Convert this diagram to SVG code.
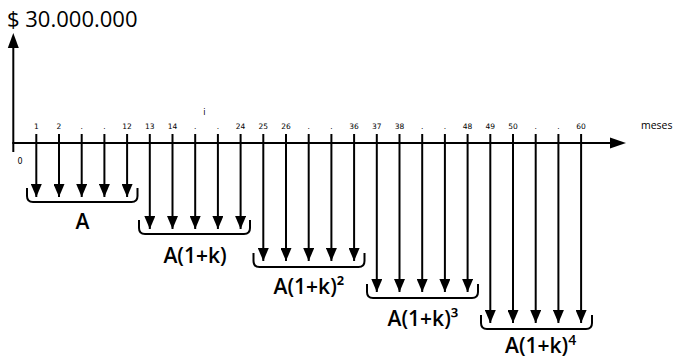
<svg xmlns="http://www.w3.org/2000/svg" width="679" height="358" viewBox="0 0 679 358">
  <style>
    .axis { stroke: #000; stroke-width: 2; fill: none; }
    .flow { stroke: #000; stroke-width: 2; fill: none; }
    .brace { stroke: #000; stroke-width: 2; fill: none; stroke-linejoin: round; }
    .tick { font-family: "DejaVu Sans", Verdana, sans-serif; font-size: 7.5px; fill: #000; text-anchor: middle; }
    .big { font-family: "Open Sans", "Liberation Sans", sans-serif; font-size: 22px; fill: #000; }
    .lbl { font-family: "Open Sans", "Liberation Sans", sans-serif; font-size: 21px; font-weight: 600; fill: #000; }
    .unit { font-family: "Open Sans", "Liberation Sans", sans-serif; font-size: 10.5px; fill: #000; }
  </style>
  <defs>
    <marker id="head" markerUnits="userSpaceOnUse" markerWidth="13" markerHeight="11" refX="13" refY="5.5" orient="auto" viewBox="0 0 13 11">
      <path d="M0,0 L13,5.5 L0,11 Z" fill="#000"/>
    </marker>
  </defs>

  <!-- axes -->
  <g id="axes">
    <line class="axis" x1="13.3" y1="152" x2="13.3" y2="46"/>
    <polygon points="13.3,33 7.8,48 18.8,48" fill="#000"/>
    <line class="axis" x1="12.3" y1="143" x2="612" y2="143"/>
    <polygon points="626,143 610,137.5 610,148.5" fill="#000"/>
  </g>

  <g id="value-label">
    <text class="big" x="7" y="27">$ 30.000.000</text>
  </g>

  <g id="axis-labels">
    <text class="unit" x="641" y="128.5">meses</text>
    <text class="tick" x="20" y="163.5" style="font-size:8px">0</text>
    <text class="tick" x="204.3" y="115" style="font-size:8px">i</text>
  </g>

  <!-- period numbers above the time axis -->
  <g id="period-numbers">
    <text class="tick" x="36.3" y="129">1</text>
    <text class="tick" x="59" y="129">2</text>
    <text class="tick" x="81.7" y="129">.</text>
    <text class="tick" x="104.4" y="129">.</text>
    <text class="tick" x="127.1" y="129">12</text>
    <text class="tick" x="149.8" y="129">13</text>
    <text class="tick" x="172.5" y="129">14</text>
    <text class="tick" x="195.2" y="129">.</text>
    <text class="tick" x="217.9" y="129">.</text>
    <text class="tick" x="240.6" y="129">24</text>
    <text class="tick" x="263.3" y="129">25</text>
    <text class="tick" x="286" y="129">26</text>
    <text class="tick" x="308.7" y="129">.</text>
    <text class="tick" x="331.4" y="129">.</text>
    <text class="tick" x="354.1" y="129">36</text>
    <text class="tick" x="376.8" y="129">37</text>
    <text class="tick" x="399.5" y="129">38</text>
    <text class="tick" x="422.2" y="129">.</text>
    <text class="tick" x="444.9" y="129">.</text>
    <text class="tick" x="467.6" y="129">48</text>
    <text class="tick" x="490.3" y="129">49</text>
    <text class="tick" x="513" y="129">50</text>
    <text class="tick" x="535.7" y="129">.</text>
    <text class="tick" x="558.4" y="129">.</text>
    <text class="tick" x="581.1" y="129">60</text>
  </g>

  <!-- payment arrows, one group per year -->
  <g id="connectors">
    <g id="year-1">
      <line class="flow" x1="36.3" y1="134" x2="36.3" y2="197" marker-end="url(#head)"/>
      <line class="flow" x1="59" y1="134" x2="59" y2="197" marker-end="url(#head)"/>
      <line class="flow" x1="81.7" y1="134" x2="81.7" y2="197" marker-end="url(#head)"/>
      <line class="flow" x1="104.4" y1="134" x2="104.4" y2="197" marker-end="url(#head)"/>
      <line class="flow" x1="127.1" y1="134" x2="127.1" y2="197" marker-end="url(#head)"/>
    </g>
    <g id="year-2">
      <line class="flow" x1="149.8" y1="134" x2="149.8" y2="229" marker-end="url(#head)"/>
      <line class="flow" x1="172.5" y1="134" x2="172.5" y2="229" marker-end="url(#head)"/>
      <line class="flow" x1="195.2" y1="134" x2="195.2" y2="229" marker-end="url(#head)"/>
      <line class="flow" x1="217.9" y1="134" x2="217.9" y2="229" marker-end="url(#head)"/>
      <line class="flow" x1="240.6" y1="134" x2="240.6" y2="229" marker-end="url(#head)"/>
    </g>
    <g id="year-3">
      <line class="flow" x1="263.3" y1="134" x2="263.3" y2="261" marker-end="url(#head)"/>
      <line class="flow" x1="286" y1="134" x2="286" y2="261" marker-end="url(#head)"/>
      <line class="flow" x1="308.7" y1="134" x2="308.7" y2="261" marker-end="url(#head)"/>
      <line class="flow" x1="331.4" y1="134" x2="331.4" y2="261" marker-end="url(#head)"/>
      <line class="flow" x1="354.1" y1="134" x2="354.1" y2="261" marker-end="url(#head)"/>
    </g>
    <g id="year-4">
      <line class="flow" x1="376.8" y1="134" x2="376.8" y2="292" marker-end="url(#head)"/>
      <line class="flow" x1="399.5" y1="134" x2="399.5" y2="292" marker-end="url(#head)"/>
      <line class="flow" x1="422.2" y1="134" x2="422.2" y2="292" marker-end="url(#head)"/>
      <line class="flow" x1="444.9" y1="134" x2="444.9" y2="292" marker-end="url(#head)"/>
      <line class="flow" x1="467.6" y1="134" x2="467.6" y2="292" marker-end="url(#head)"/>
    </g>
    <g id="year-5">
      <line class="flow" x1="490.3" y1="134" x2="490.3" y2="323" marker-end="url(#head)"/>
      <line class="flow" x1="513" y1="134" x2="513" y2="323" marker-end="url(#head)"/>
      <line class="flow" x1="535.7" y1="134" x2="535.7" y2="323" marker-end="url(#head)"/>
      <line class="flow" x1="558.4" y1="134" x2="558.4" y2="323" marker-end="url(#head)"/>
      <line class="flow" x1="581.1" y1="134" x2="581.1" y2="323" marker-end="url(#head)"/>
    </g>
  </g>

  <!-- braces and amount labels -->
  <g id="node-A">
    <path class="brace" d="M27,188 V196 Q27,202 33,202 H131.5 Q137.5,202 137.5,196 V188"/>
    <text class="lbl" x="82.5" y="229" text-anchor="middle">A</text>
  </g>
  <g id="node-A1k">
    <path class="brace" d="M139,220 V228 Q139,234 145,234 H244 Q250,234 250,228 V220"/>
    <text class="lbl" x="195" y="263" text-anchor="middle">A(1+k)</text>
  </g>
  <g id="node-A1k2">
    <path class="brace" d="M253.5,253 V261 Q253.5,267 259.5,267 H358.5 Q364.5,267 364.5,261 V253"/>
    <text class="lbl" x="309" y="294" text-anchor="middle">A(1+k)²</text>
  </g>
  <g id="node-A1k3">
    <path class="brace" d="M367,284 V292 Q367,298 373,298 H472 Q478,298 478,292 V284"/>
    <text class="lbl" x="423" y="326" text-anchor="middle">A(1+k)³</text>
  </g>
  <g id="node-A1k4">
    <path class="brace" d="M481,315 V323 Q481,329 487,329 H586 Q592,329 592,323 V315"/>
    <text class="lbl" x="505" y="353">A(1+k)<tspan font-size="14" dy="-8">4</tspan></text>
  </g>
</svg>
